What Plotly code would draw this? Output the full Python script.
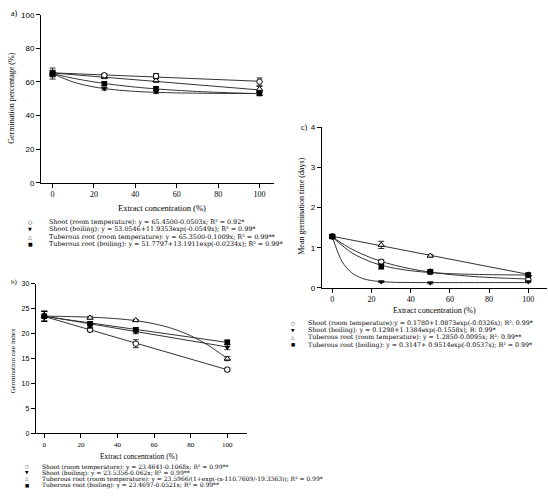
import plotly.graph_objects as go

# sampling concentrations (%)
conc = [0, 25, 50, 100]
fit_x = [0, 10, 20, 30, 40, 50, 60, 70, 80, 90, 100]
fit_x_lin = [0, 100]
fit_x_fast = [0, 5, 10, 15, 20, 30, 40, 50, 60, 80, 100]

# a) germination percentage
a_shoot_rt = [65.0, 64.0, 63.5, 60.2]
a_shoot_boil = [65.0, 56.0, 54.2, 53.0]
a_tub_rt = [65.0, 63.0, 61.0, 55.8]
a_tub_boil = [65.0, 59.0, 56.0, 53.2]
a_err_shoot_rt = [3.3, 1.0, 1.5, 2.2]
a_err_shoot_boil = [1.5, 0.8, 1.0, 0.8]
a_err_tub_rt = [1.5, 1.0, 1.2, 1.5]
a_err_tub_boil = [2.0, 1.0, 1.0, 1.0]
a_fit_shoot_rt = [65.45, 60.42]
a_fit_shoot_boil = [64.99, 59.94, 57.03, 55.35, 54.38, 53.82, 53.49, 53.31, 53.20, 53.14, 53.10]
a_fit_tub_rt = [65.35, 55.26]
a_fit_tub_boil = [64.97, 62.22, 60.04, 58.32, 56.95, 55.87, 55.02, 54.34, 53.81, 53.39, 53.05]

# b) germination rate index
b_shoot_rt = [23.5, 20.8, 18.0, 12.8]
b_shoot_boil = [23.5, 21.6, 20.4, 17.3]
b_tub_rt = [23.5, 23.2, 22.7, 15.0]
b_tub_boil = [23.5, 22.0, 20.8, 18.3]
b_err_shoot_rt = [1.0, 0.4, 0.8, 0.3]
b_err_shoot_boil = [1.0, 0.5, 0.4, 0.5]
b_err_tub_rt = [1.0, 0.3, 0.2, 0.4]
b_err_tub_boil = [1.0, 0.4, 0.4, 0.4]
b_fit_shoot_rt = [23.46, 12.78]
b_fit_shoot_boil = [23.54, 17.34]
b_fit_tub_rt = [23.52, 23.47, 23.38, 23.24, 23.00, 22.62, 22.00, 21.04, 19.60, 17.59, 15.00]
b_fit_tub_boil = [23.47, 18.26]

# c) mean germination time
c_shoot_rt = [1.28, 0.65, 0.40, 0.20]
c_shoot_boil = [1.28, 0.15, 0.12, 0.15]
c_tub_rt = [1.28, 1.07, 0.80, 0.33]
c_tub_boil = [1.28, 0.53, 0.40, 0.32]
c_err_shoot_rt = [0.04, 0.05, 0.04, 0.03]
c_err_shoot_boil = [0.04, 0.02, 0.02, 0.02]
c_err_tub_rt = [0.04, 0.09, 0.03, 0.03]
c_err_tub_boil = [0.04, 0.06, 0.05, 0.04]
c_fit_shoot_rt = [1.265, 0.963, 0.744, 0.587, 0.473, 0.391, 0.332, 0.289, 0.258, 0.236, 0.220]
c_fit_shoot_boil = [1.268, 0.652, 0.370, 0.240, 0.180, 0.140, 0.132, 0.130, 0.130, 0.130, 0.130]
c_fit_tub_rt = [1.285, 0.335]
c_fit_tub_boil = [1.266, 0.871, 0.640, 0.505, 0.426, 0.380, 0.353, 0.337, 0.328, 0.322, 0.319]

a_legend = ["Shoot (room temperature): y = 65.4500-0.0503x; R² = 0.92*",
            "Shoot (boiling): y = 53.0546+11.9353exp(-0.0549x); R² = 0.99*",
            "Tuberous root (room temperature): y = 65.3500-0.1009x; R² = 0.99**",
            "Tuberous root (boiling): y = 51.7797+13.1911exp(-0.0234x); R² = 0.99*"]
b_legend = ["Shoot (room temperature): y = 23.4641-0.1068x; R² = 0.99**",
            "Shoot (boiling): y = 23.5356-0.062x; R² = 0.99**",
            "Tuberous root (room temperature): y = 23.5966/(1+exp(-(x-110.7609/-19.3363)); R² = 0.99*",
            "Tuberous root (boiling): y = 23.4697-0.0521x; R² = 0.99**"]
c_legend = ["Shoot (room temperature):y = 0.1780+1.0873exp(-0.0326x); R²: 0.99*",
            "Shoot (boiling): y = 0.1298+1.1384exp(-0.1558x); R: 0.99*",
            "Tuberous root (room temperature): y = 1.2850-0.0095x; R²: 0.99**",
            "Tuberous root (boiling): y = 0.3147+ 0.9514exp(-0.0537x); R² = 0.99*"]
legend_symbols = ["○", "▼", "△", "■"]

W, H = 548, 500
SERIF = "Liberation Serif"
WIDE_SERIF = "DejaVu Serif"
SANS = "Liberation Sans"

fig = go.Figure()

markers = [
    dict(symbol="circle", color="white", size=5.5, line=dict(color="black", width=1)),
    dict(symbol="triangle-down", color="black", size=5.5, line=dict(color="black", width=0)),
    dict(symbol="triangle-up", color="white", size=5.5, line=dict(color="black", width=1)),
    dict(symbol="square", color="black", size=5.5, line=dict(color="black", width=0)),
]


def add_panel(xa, ya, fits, pts, errs):
    for fx, fy in fits:
        fig.add_trace(go.Scatter(x=fx, y=fy, mode="lines", xaxis=xa, yaxis=ya,
                                 line=dict(color="#333", width=1, shape="spline", smoothing=0.8),
                                 showlegend=False, hoverinfo="skip"))
    # draw order so that the filled square sits on top at x=0
    for i in [2, 0, 1, 3]:
        fig.add_trace(go.Scatter(x=conc, y=pts[i], mode="markers", xaxis=xa, yaxis=ya,
                                 marker=markers[i],
                                 error_y=dict(type="data", array=errs[i], color="black",
                                              thickness=0.8, width=3),
                                 showlegend=False))


add_panel("x", "y",
          [(fit_x_lin, a_fit_shoot_rt), (fit_x, a_fit_shoot_boil),
           (fit_x_lin, a_fit_tub_rt), (fit_x, a_fit_tub_boil)],
          [a_shoot_rt, a_shoot_boil, a_tub_rt, a_tub_boil],
          [a_err_shoot_rt, a_err_shoot_boil, a_err_tub_rt, a_err_tub_boil])
add_panel("x2", "y2",
          [(fit_x_lin, b_fit_shoot_rt), (fit_x_lin, b_fit_shoot_boil),
           (fit_x, b_fit_tub_rt), (fit_x_lin, b_fit_tub_boil)],
          [b_shoot_rt, b_shoot_boil, b_tub_rt, b_tub_boil],
          [b_err_shoot_rt, b_err_shoot_boil, b_err_tub_rt, b_err_tub_boil])
add_panel("x3", "y3",
          [(fit_x, c_fit_shoot_rt), (fit_x_fast, c_fit_shoot_boil),
           (fit_x_lin, c_fit_tub_rt), (fit_x, c_fit_tub_boil)],
          [c_shoot_rt, c_shoot_boil, c_tub_rt, c_tub_boil],
          [c_err_shoot_rt, c_err_shoot_boil, c_err_tub_rt, c_err_tub_boil])


def px(x):
    return x / W


def py(y):
    return 1 - y / H


def xaxis(dom, rng, anchor, size):
    return dict(domain=dom, range=rng, anchor=anchor, showline=True, linecolor="black",
                linewidth=1, showgrid=False, zeroline=False, ticks="outside", ticklen=4,
                tickcolor="black", tickwidth=1, tickvals=[0, 20, 40, 60, 80, 100],
                tickfont=dict(family=SERIF, size=size, color="black"))


def yaxis(dom, rng, dtick, anchor, size):
    return dict(domain=dom, range=rng, anchor=anchor, showline=True, linecolor="black",
                linewidth=1, showgrid=False, zeroline=False, ticks="outside", ticklen=4,
                tickcolor="black", tickwidth=1, dtick=dtick,
                tickfont=dict(family=SANS, size=size, color="black"))


fig.update_layout(
    width=W, height=H, margin=dict(l=0, r=0, t=0, b=0),
    paper_bgcolor="white", plot_bgcolor="white", showlegend=False,
    xaxis=xaxis([px(41), px(274)], [-5.6, 107], "y", 8),
    yaxis=yaxis([py(182), py(11)], [0, 100], 20, "x", 8),
    xaxis2=xaxis([px(35.7), px(246.7)], [-4.7, 110.6], "y2", 7),
    yaxis2=yaxis([py(437.3), py(285)], [0, 30], 5, "x2", 7),
    xaxis3=xaxis([px(321.7), px(546.7)], [-5.4, 109.4], "y3", 8),
    yaxis3=yaxis([py(289), py(125.7)], [0, 4], 1, "x3", 8),
)

ann = []


def text(x, y, s, size, angle=0, xanchor="center", family=SERIF):
    ann.append(dict(x=px(x), y=py(y), xref="paper", yref="paper", text=s, showarrow=False,
                    textangle=angle, xanchor=xanchor, yanchor="middle", borderpad=0,
                    font=dict(family=family, size=size, color="black")))


# panel labels and axis titles
text(14.5, 10, "a)", 8)
text(12, 96.5, "Germination percentage (%)", 8, -90)
text(162, 208, "Extract concentration (%)", 8.5)
text(14.5, 283, "b)", 7)
text(13, 364, "Germination rate index", 7, -90)
text(139, 460.7, "Extract concentration (%)", 7.5)
text(304, 126, "c)", 8)
text(302, 206.5, "Mean germination time (days)", 8, -90)
text(434, 312, "Extract concentration (%)", 8)

# legends (wide serif so the rows reach as far right as in the source)
for rows, sym_x, txt_x, y0, dy, size, ssize in [(a_legend, 30, 47.7, 221.5, 7.8, 6.4, 5),
                                                (b_legend, 26.7, 40.7, 471, 6.3, 6.0, 4.5),
                                                (c_legend, 293, 307, 325, 7.3, 6.3, 4.5)]:
    for i, s in enumerate(rows):
        text(sym_x, y0 + i * dy, legend_symbols[i], ssize, family="DejaVu Sans")
        text(txt_x, y0 + i * dy, s, size, xanchor="left", family=WIDE_SERIF)

fig.update_layout(annotations=ann)
fig.write_html("out.html", config={"displayModeBar": False},
               post_script="document.body.style.margin='0px';")
